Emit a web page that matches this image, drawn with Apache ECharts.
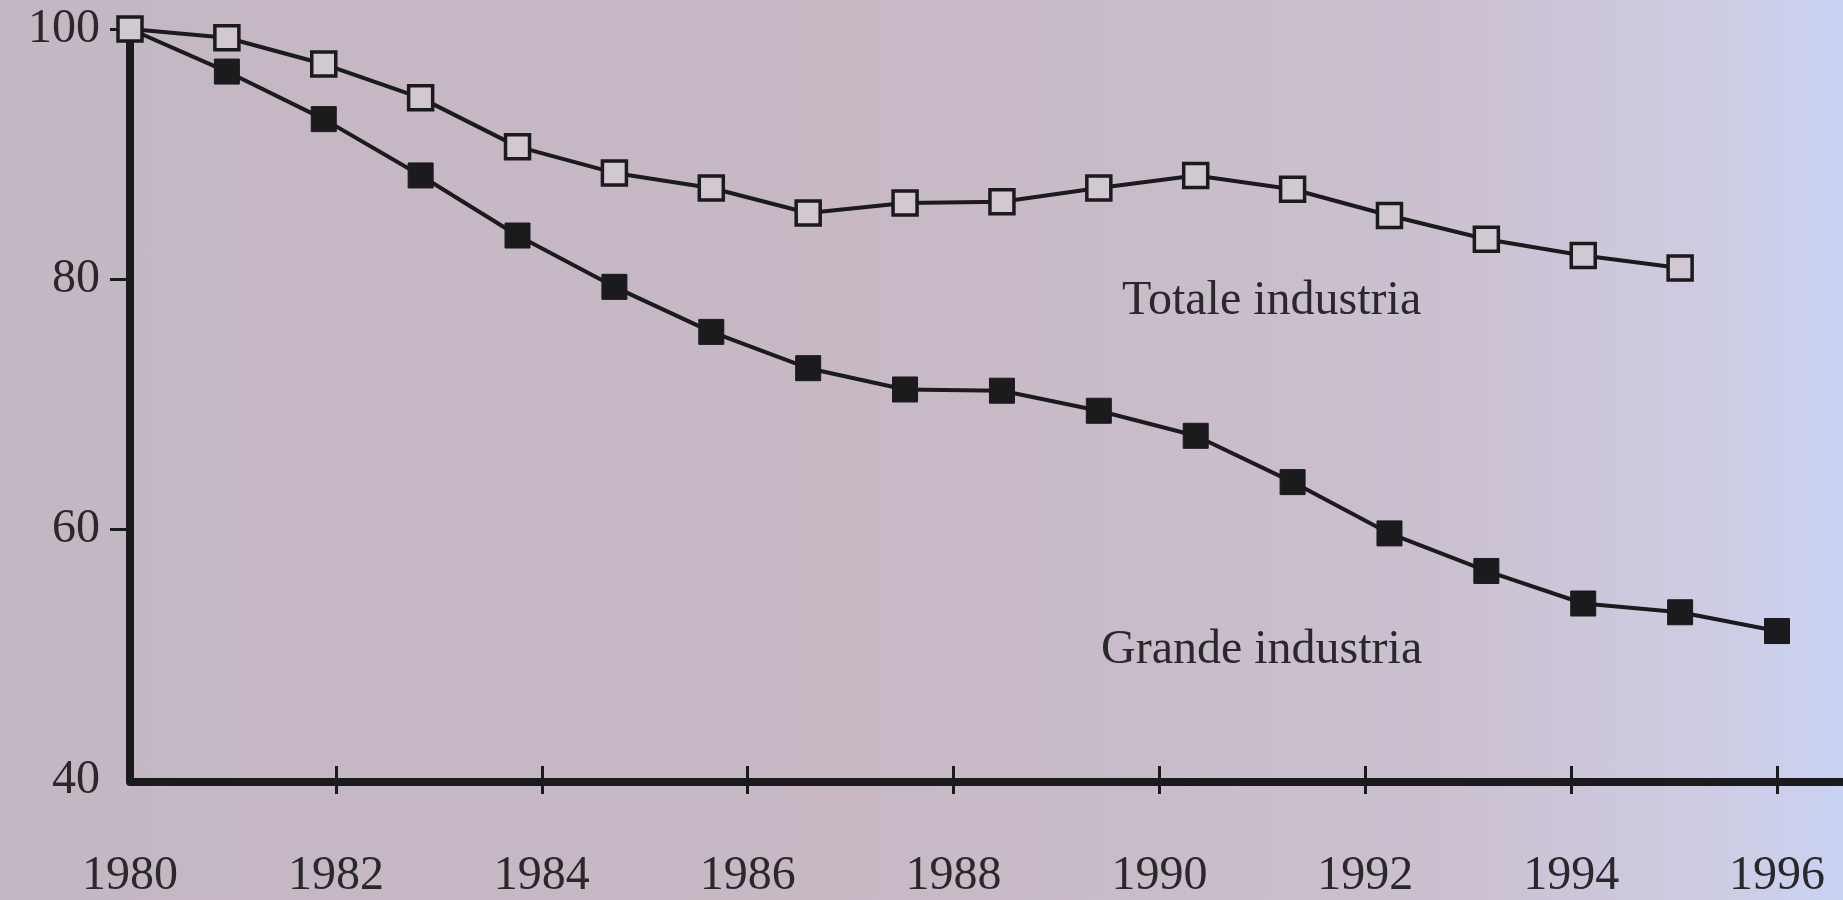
<!DOCTYPE html>
<html>
<head>
<meta charset="utf-8">
<title>Totale industria / Grande industria</title>
<script src="https://cdn.jsdelivr.net/npm/echarts@6/dist/echarts.min.js"></script>
<style>
  html, body { margin: 0; padding: 0; }
  #chart {
    width: 1843px;
    height: 900px;
    background: linear-gradient(90deg, #c4b7c4 0%, #c7b8c4 45%, #cbc0cf 78%, #cfcbe2 92%, #c9d3f2 100%);
  }
</style>
</head>
<body>
<div id="chart"></div>
<script>
// observations, evenly spaced along the axis (18 of them)
const obs = ['1', '2', '3', '4', '5', '6', '7', '8', '9', '10', '11', '12', '13', '14', '15', '16', '17', '18'];
// index values
const totale = [100, 99.3, 97.2, 94.5, 90.6, 88.5, 87.3, 85.3, 86.1, 86.2, 87.3, 88.3, 87.2, 85.1, 83.2, 81.9, 80.9, null];
const grande = [100, 96.6, 92.8, 88.3, 83.5, 79.4, 75.8, 72.9, 71.2, 71.1, 69.5, 67.5, 63.8, 59.7, 56.7, 54.1, 53.4, 51.9];
// axis ticks
const yearTicks = [1982, 1984, 1986, 1988, 1990, 1992, 1994, 1996];
const yTicks = [60, 80, 100];

const ink = '#1b1a1c';
const serif = '"Liberation Serif", "DejaVu Serif", serif';

var myChart = echarts.init(document.getElementById('chart'));
var option = {
  backgroundColor: 'transparent',
  animation: false,
  grid: [
    { left: 130, right: 66, top: 29, bottom: 118 },
    // same plot, but running to the right edge: only carries the long x axis line
    { left: 130, right: 0, top: 29, bottom: 118 }
  ],
  xAxis: [
    {
      type: 'value',
      min: 1980,
      max: 1996,
      interval: 2,
      position: 'bottom',
      axisLine: { show: false },
      axisTick: { length: 14, lineStyle: { color: ink, width: 3 }, customValues: yearTicks },
      axisLabel: {
        color: '#2a282b', fontFamily: serif, fontSize: 48, margin: 72,
        formatter: function (v) { return String(v); }
      },
      splitLine: { show: false }
    },
    {
      type: 'category',
      data: obs,
      boundaryGap: false,
      show: false
    },
    {
      // upper half of the x ticks
      type: 'value',
      min: 1980,
      max: 1996,
      interval: 2,
      position: 'bottom',
      axisLine: { show: false },
      axisTick: { inside: true, length: 14, lineStyle: { color: ink, width: 3 }, customValues: yearTicks },
      axisLabel: { show: false },
      splitLine: { show: false }
    },
    {
      gridIndex: 1,
      type: 'value',
      min: 0,
      max: 1,
      position: 'bottom',
      axisLine: { onZero: false, lineStyle: { color: ink, width: 8 } },
      axisTick: { show: false },
      axisLabel: { show: false },
      splitLine: { show: false }
    }
  ],
  yAxis: [
    {
      type: 'value',
      min: 40,
      max: 100,
      interval: 20,
      axisLine: { show: true, lineStyle: { color: ink, width: 8 } },
      axisTick: { show: true, length: 20, lineStyle: { color: ink, width: 3 }, customValues: yTicks },
      axisLabel: { color: '#2a282b', fontFamily: serif, fontSize: 48, margin: 30 },
      splitLine: { show: false }
    },
    {
      gridIndex: 1,
      type: 'value',
      min: 0,
      max: 1,
      show: false
    }
  ],
  series: [
    {
      name: 'Totale industria',
      type: 'line',
      xAxisIndex: 1,
      data: totale,
      symbol: 'rect',
      symbolSize: 24,
      lineStyle: { color: ink, width: 4 },
      itemStyle: { color: '#d2c8d2', borderColor: ink, borderWidth: 3.5 },
      z: 3
    },
    {
      name: 'Grande industria',
      type: 'line',
      xAxisIndex: 1,
      data: grande,
      symbol: 'rect',
      symbolSize: 25,
      lineStyle: { color: ink, width: 4 },
      itemStyle: { color: ink, borderColor: ink, borderWidth: 1 },
      z: 2
    }
  ],
  graphic: [
    {
      type: 'text',
      left: 1122,
      top: 277,
      style: { text: 'Totale industria', fill: '#2a282b', font: '48px ' + serif }
    },
    {
      type: 'text',
      left: 1101,
      top: 626,
      style: { text: 'Grande industria', fill: '#2a282b', font: '48px ' + serif }
    }
  ]
};
option && myChart.setOption(option);
</script>
</body>
</html>
